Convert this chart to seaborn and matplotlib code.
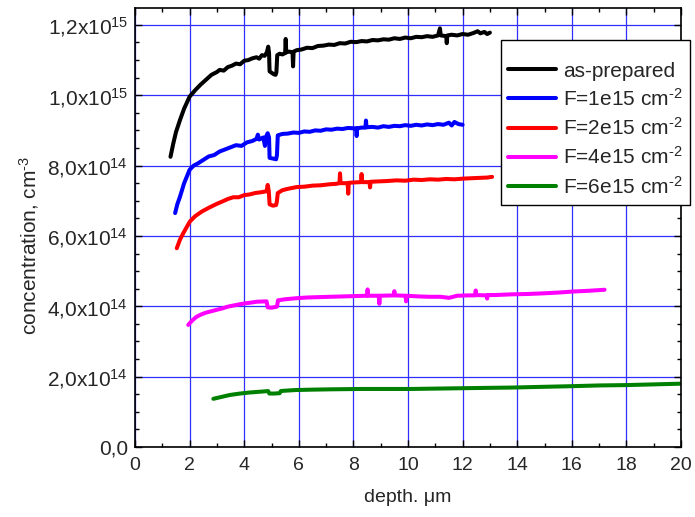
import numpy as np
import pandas as pd
import seaborn as sns
import matplotlib
matplotlib.use("Agg")
import matplotlib.pyplot as plt
from matplotlib.ticker import FixedLocator, MultipleLocator
from matplotlib.lines import Line2D

# ---- data (depth in um, concentration in units of 1e14 cm^-3) ----
labels = ["as-prepared", "F=1e15 cm$^{\u20102}$", "F=2e15 cm$^{\u20102}$",
          "F=4e15 cm$^{\u20102}$", "F=6e15 cm$^{\u20102}$"]
colors = ["#000000", "#0000FF", "#FF0000", "#FF00FF", "#008000"]

black_x = [1.30, 1.40, 1.50, 1.65, 1.80, 2.00, 2.20, 2.40, 2.60, 2.80, 3.00, 3.10, 3.25, 3.40, 3.55, 3.70,
           3.85, 4.00, 4.15, 4.30, 4.45, 4.55, 4.65, 4.75, 4.83, 4.88, 4.91, 4.93, 5.00, 5.08, 5.15, 5.18,
           5.21, 5.30, 5.40, 5.50, 5.52, 5.54, 5.65, 5.77, 5.79, 5.81, 5.92, 6.10, 6.30, 6.50, 6.70, 6.90,
           7.10, 7.30, 7.50, 7.70, 7.90, 8.10, 8.30, 8.50, 8.70, 8.90, 9.10, 9.30, 9.50, 9.70, 9.90, 10.10,
           10.30, 10.50, 10.70, 10.90, 11.10, 11.17, 11.20, 11.40, 11.42, 11.44, 11.60, 11.80, 12.00, 12.20,
           12.40, 12.55, 12.65, 12.80, 12.90, 13.00]
black_y = [8.25, 8.62, 8.95, 9.30, 9.62, 9.96, 10.14, 10.30, 10.44, 10.58, 10.66, 10.72, 10.70, 10.80, 10.84, 10.90,
           10.88, 10.98, 11.00, 11.05, 11.08, 11.04, 11.14, 11.12, 11.22, 11.38, 11.20, 10.68, 10.64, 10.60, 10.58, 10.66,
           11.14, 11.18, 11.16, 11.20, 11.60, 11.22, 11.24, 11.22, 10.82, 11.24, 11.28, 11.30, 11.35, 11.34, 11.40, 11.41,
           11.44, 11.43, 11.48, 11.47, 11.52, 11.51, 11.54, 11.53, 11.57, 11.56, 11.59, 11.58, 11.62, 11.60, 11.64, 11.62,
           11.66, 11.65, 11.68, 11.66, 11.70, 11.90, 11.70, 11.68, 11.48, 11.70, 11.72, 11.70, 11.74, 11.72,
           11.77, 11.82, 11.76, 11.80, 11.74, 11.78]

blue_x = [1.47, 1.55, 1.65, 1.80, 2.00, 2.15, 2.30, 2.50, 2.70, 2.90, 3.10, 3.30, 3.50, 3.70, 3.90, 4.10,
          4.30, 4.45, 4.50, 4.55, 4.70, 4.76, 4.80, 4.86, 4.91, 4.93, 5.05, 5.17, 5.20, 5.23, 5.40, 5.60,
          5.80, 6.00, 6.20, 6.40, 6.60, 6.80, 7.00, 7.20, 7.40, 7.60, 7.80, 8.00, 8.10, 8.12, 8.14, 8.30,
          8.44, 8.46, 8.48, 8.70, 8.90, 9.10, 9.30, 9.50, 9.70, 9.90, 10.10, 10.30, 10.50, 10.70, 10.90,
          11.10, 11.30, 11.50, 11.60, 11.70, 11.85, 12.00]
blue_y = [6.65, 6.90, 7.12, 7.50, 7.88, 8.00, 8.06, 8.16, 8.26, 8.30, 8.40, 8.46, 8.52, 8.58, 8.56, 8.66,
          8.70, 8.76, 8.88, 8.74, 8.80, 8.56, 8.82, 8.92, 8.80, 8.22, 8.20, 8.18, 8.30, 8.86, 8.90, 8.91,
          8.94, 8.93, 8.97, 8.96, 9.00, 8.99, 9.03, 9.02, 9.05, 9.04, 9.07, 9.06, 9.06, 8.84, 9.06, 9.08,
          9.08, 9.28, 9.09, 9.10, 9.08, 9.12, 9.10, 9.13, 9.12, 9.15, 9.13, 9.16, 9.14, 9.17, 9.15,
          9.18, 9.16, 9.22, 9.14, 9.24, 9.18, 9.16]

red_x = [1.53, 1.65, 1.77, 1.90, 2.01, 2.20, 2.44, 2.70, 2.99, 3.20, 3.40, 3.60, 3.80, 4.00, 4.20, 4.40,
         4.60, 4.82, 4.86, 4.90, 4.93, 5.05, 5.17, 5.20, 5.23, 5.40, 5.60, 5.92, 6.20, 6.50, 6.80, 7.14,
         7.35, 7.49, 7.51, 7.53, 7.70, 7.79, 7.81, 7.83, 8.00, 8.28, 8.30, 8.32, 8.59, 8.61, 8.63, 8.90,
         9.20, 9.58, 9.90, 10.20, 10.50, 10.80, 11.10, 11.40, 11.70, 12.03, 12.30, 12.60, 12.90, 13.08]
red_y = [5.65, 5.90, 6.08, 6.26, 6.41, 6.56, 6.69, 6.80, 6.91, 6.98, 7.05, 7.10, 7.10, 7.16, 7.18, 7.22,
         7.24, 7.27, 7.45, 7.28, 6.90, 6.86, 6.88, 7.00, 7.22, 7.30, 7.34, 7.39, 7.40, 7.43, 7.44, 7.47,
         7.48, 7.50, 7.78, 7.50, 7.50, 7.50, 7.20, 7.51, 7.52, 7.53, 7.76, 7.53, 7.53, 7.38, 7.54, 7.55,
         7.56, 7.58, 7.57, 7.60, 7.59, 7.61, 7.60, 7.62, 7.61, 7.63, 7.64, 7.65, 7.66, 7.68]

mag_x = [1.95, 2.10, 2.25, 2.40, 2.60, 2.80, 2.99, 3.20, 3.40, 3.72, 4.00, 4.20, 4.46, 4.82, 4.86, 5.00,
         5.20, 5.24, 5.50, 5.92, 6.30, 6.70, 7.14, 7.60, 8.00, 8.50, 8.52, 8.54, 8.93, 8.95, 8.97, 9.48,
         9.50, 9.52, 9.91, 9.93, 9.95, 10.40, 10.78, 11.20, 11.50, 11.80, 12.20, 12.46, 12.48, 12.50, 12.88,
         12.90, 12.92, 13.20, 13.80, 14.40, 15.00, 15.50, 16.05, 16.60, 17.20]
mag_y = [3.47, 3.60, 3.70, 3.76, 3.82, 3.86, 3.90, 3.94, 3.99, 4.04, 4.08, 4.10, 4.13, 4.14, 3.97, 3.96,
         3.99, 4.17, 4.20, 4.23, 4.25, 4.26, 4.27, 4.28, 4.29, 4.30, 4.48, 4.30, 4.30, 4.07, 4.30, 4.31,
         4.43, 4.31, 4.30, 4.14, 4.30, 4.28, 4.27, 4.27, 4.24, 4.30, 4.31, 4.31, 4.45, 4.32, 4.31,
         4.22, 4.32, 4.32, 4.34, 4.35, 4.37, 4.39, 4.42, 4.44, 4.47]

green_x = [2.87, 3.20, 3.48, 3.85, 4.21, 4.55, 4.88, 4.92, 5.10, 5.30, 5.34, 5.48, 5.90, 6.46, 7.20, 8.30,
           9.20, 10.10, 11.00, 11.90, 12.80, 13.80, 14.90, 16.05, 17.00, 18.00, 19.00, 20.00]
green_y = [1.37, 1.43, 1.48, 1.52, 1.55, 1.57, 1.59, 1.52, 1.52, 1.53, 1.59, 1.60, 1.62, 1.63, 1.64, 1.65,
           1.65, 1.65, 1.66, 1.67, 1.68, 1.69, 1.71, 1.73, 1.75, 1.76, 1.78, 1.80]

y_ticks = [0, 2e14, 4e14, 6e14, 8e14, 1.0e15, 1.2e15]
y_tick_labels = ["0,0", "2,0x10$^{14}$", "4,0x10$^{14}$", "6,0x10$^{14}$",
                 "8,0x10$^{14}$", "1,0x10$^{15}$", "1,2x10$^{15}$"]
x_ticks = [0, 2, 4, 6, 8, 10, 12, 14, 16, 18, 20]

# ---- build long table ----
xs = [black_x, blue_x, red_x, mag_x, green_x]
ys = [black_y, blue_y, red_y, mag_y, green_y]
frames = []
for lab, x, y in zip(labels, xs, ys):
    frames.append(pd.DataFrame({"depth": x, "conc": np.array(y) * 1e14, "series": lab}))
df = pd.concat(frames, ignore_index=True)

sns.set_style("ticks")
plt.rcParams["font.family"] = ["Liberation Sans", "DejaVu Sans"]
plt.rcParams["mathtext.fontset"] = "custom"
plt.rcParams["mathtext.rm"] = "Liberation Sans"
plt.rcParams["mathtext.it"] = "Liberation Sans"

fig = plt.figure(figsize=(6.95, 5.17), dpi=100)
ax = fig.add_axes([135 / 695, 1 - 447 / 517, (681 - 135) / 695, (447 - 8) / 517])

sns.lineplot(data=df, x="depth", y="conc", hue="series", hue_order=labels,
             palette=dict(zip(labels, colors)), estimator=None, sort=False,
             linewidth=2.9, ax=ax, legend=False)

ax.set_xlim(0, 20)
ax.set_ylim(0, 1.248e15)
ax.xaxis.set_major_locator(FixedLocator(x_ticks))
ax.xaxis.set_minor_locator(MultipleLocator(1))
ax.yaxis.set_major_locator(FixedLocator(y_ticks))
ax.set_yticklabels(y_tick_labels)
ax.yaxis.set_minor_locator(MultipleLocator(0.5e14))
ax.set_xticklabels([str(v) for v in x_ticks])

ax.grid(True, which="major", color="#2f2fff", linewidth=0.9)
ax.set_axisbelow(True)
for s in ax.spines.values():
    s.set_color("black")
    s.set_linewidth(1.2)
ax.tick_params(which="both", direction="in", top=True, right=True, color="black", width=1.0)
ax.tick_params(which="major", length=5)
ax.tick_params(which="minor", length=3)
ax.tick_params(axis="y", labelsize=15, pad=5)
ax.tick_params(axis="x", labelsize=14, pad=7)

ax.set_xlabel("depth. \u03bcm", fontsize=14, labelpad=11)
ax.set_ylabel("concentration, cm$^{\u20103}$", fontsize=15)
ax.yaxis.set_label_coords(-0.172, 0.46)

handles = [Line2D([], [], color=c, lw=2.9) for c in colors]
leg = ax.legend(handles, labels, loc="upper right",
                bbox_to_anchor=(690 / 695, 1 - 40 / 517), bbox_transform=fig.transFigure,
                fontsize=15, title=" ", title_fontsize=5, frameon=True, fancybox=False,
                framealpha=1, edgecolor="black", handlelength=2.3, handletextpad=0.35,
                labelspacing=0.35, borderpad=0.35, borderaxespad=0)
leg.get_frame().set_linewidth(1.0)
leg.set_zorder(10)

fig.savefig("out.png", dpi=100)
